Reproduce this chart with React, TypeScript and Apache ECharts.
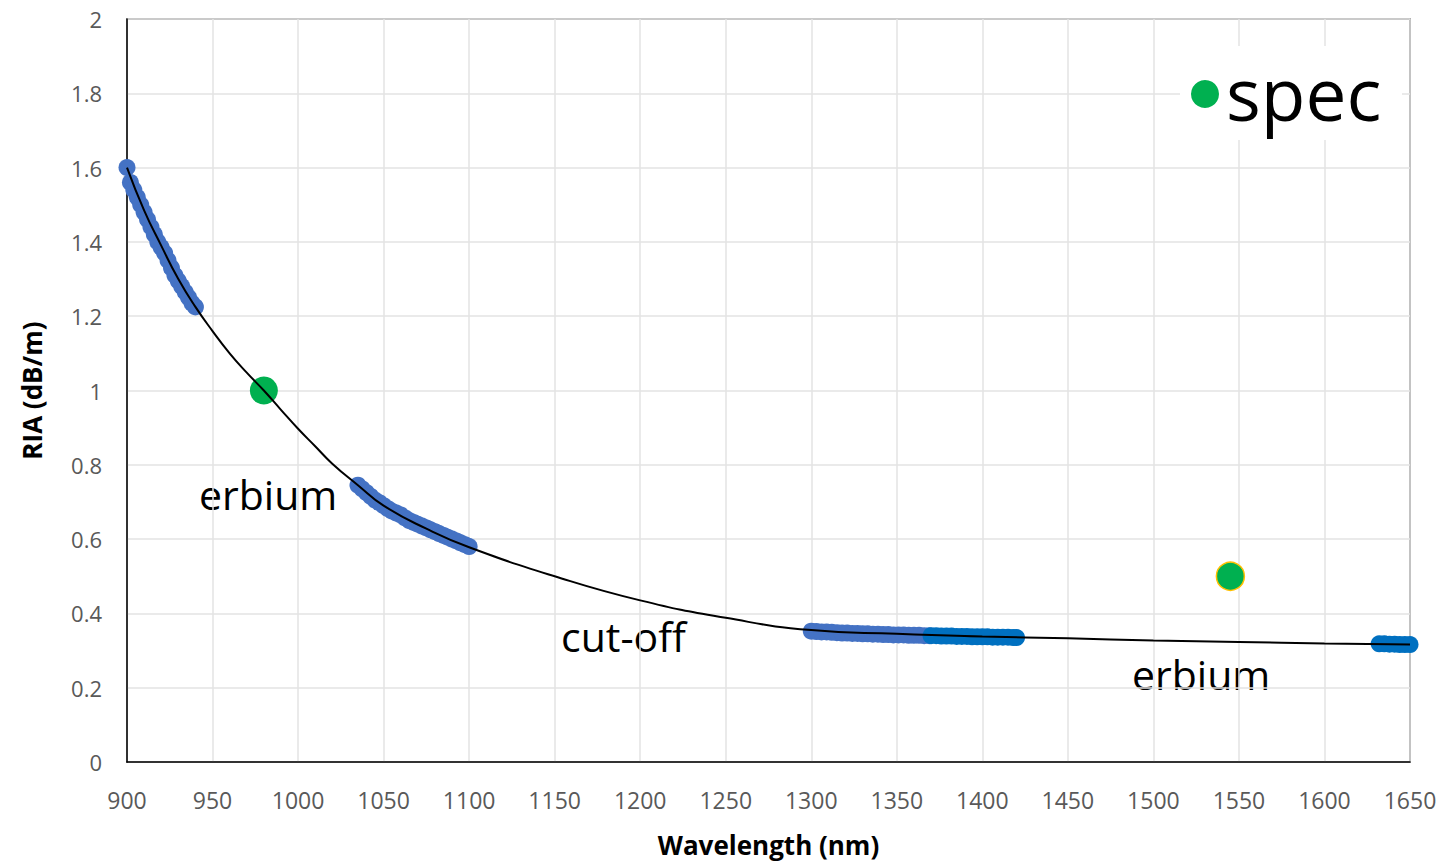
import React, { useEffect, useRef } from "react";
import * as echarts from "echarts";

// Measured RIA, lighter blue
const seg1X = [900, 902, 904, 906, 908, 910, 912, 914, 916, 918, 920, 922, 924, 926, 928, 930, 932, 934, 936, 938, 940];
const seg1Y = [1.6, 1.56, 1.54, 1.52, 1.5, 1.48, 1.46, 1.44, 1.42, 1.4, 1.385, 1.37, 1.35, 1.33, 1.31, 1.295, 1.28, 1.265, 1.25, 1.235, 1.225];
const seg2X = [1035, 1037.5, 1040, 1042.5, 1045, 1047.5, 1050, 1052.5, 1055, 1057.5, 1060, 1062.5, 1065, 1067.5, 1070, 1072.5, 1075, 1077.5, 1080, 1082.5, 1085, 1087.5, 1090, 1092.5, 1095, 1097.5, 1100];
const seg2Y = [0.745, 0.735, 0.725, 0.715, 0.705, 0.698, 0.69, 0.682, 0.675, 0.67, 0.665, 0.657, 0.65, 0.645, 0.64, 0.635, 0.63, 0.625, 0.62, 0.615, 0.61, 0.605, 0.6, 0.595, 0.59, 0.585, 0.58];
const seg3X = [1300, 1303, 1306, 1309, 1312, 1315, 1318, 1321, 1324, 1327, 1330, 1333, 1336, 1339, 1342, 1345, 1348, 1351, 1354, 1357, 1360, 1363, 1366, 1369];
const seg3Y = [0.352, 0.351, 0.35, 0.35, 0.349, 0.348, 0.347, 0.347, 0.346, 0.346, 0.345, 0.345, 0.344, 0.344, 0.343, 0.343, 0.342, 0.342, 0.342, 0.341, 0.341, 0.341, 0.34, 0.34];
// Measured RIA, darker blue
const seg4X = [1370, 1373, 1376, 1379, 1382, 1385, 1388, 1391, 1394, 1397, 1400, 1403, 1406, 1409, 1412, 1415, 1418, 1420];
const seg4Y = [0.34, 0.34, 0.339, 0.339, 0.339, 0.338, 0.338, 0.338, 0.337, 0.337, 0.337, 0.337, 0.336, 0.336, 0.336, 0.336, 0.335, 0.335];
const seg5X = [1632, 1635, 1638, 1641, 1644, 1647, 1650];
const seg5Y = [0.318, 0.318, 0.317, 0.317, 0.316, 0.316, 0.316];
// Fit curve
const fitX = [900, 910, 920, 930, 940, 950, 960, 970, 980, 990, 1000, 1010, 1020, 1035, 1050, 1075, 1100, 1150, 1200, 1250, 1300, 1350, 1400, 1450, 1500, 1550, 1600, 1650];
const fitY = [1.6, 1.485, 1.39, 1.3, 1.225, 1.16, 1.1, 1.048, 1.0, 0.948, 0.897, 0.85, 0.803, 0.745, 0.69, 0.628, 0.578, 0.5, 0.435, 0.388, 0.355, 0.345, 0.338, 0.333, 0.327, 0.323, 0.319, 0.316];
// Spec points
const specX = [980, 1545];
const specY = [1.0, 0.5];

const xTicks = [900, 950, 1000, 1050, 1100, 1150, 1200, 1250, 1300, 1350, 1400, 1450, 1500, 1550, 1600, 1650];

const zip = (xs: number[], ys: number[]) => xs.map((x, i) => [x, ys[i]]);

export default function App() {
  const ref = useRef<HTMLDivElement>(null);
  useEffect(() => {
    if (!ref.current) return;
    const chart = echarts.init(ref.current, undefined, { renderer: "svg" });
    const light = "#4472C4";
    const dark = "#0070C0";
    const green = "#00B050";
    const font = "'Open Sans', sans-serif";
    const marker = (c: string) => ({ color: c, opacity: 1 });
    chart.setOption({
      animation: false,
      backgroundColor: "#fff",
      grid: {
        left: 127, right: 32, top: 19, bottom: 102,
        outerBoundsMode: "none",
        show: true, borderColor: "#000", borderWidth: 1.2, backgroundColor: "transparent",
      },
      xAxis: {
        type: "value",
        min: xTicks[0],
        max: xTicks[xTicks.length - 1],
        interval: 50,
        name: "Wavelength (nm)",
        nameLocation: "middle",
        nameGap: 70,
        nameTextStyle: { fontFamily: font, fontWeight: "bold", fontSize: 26, color: "#000" },
        axisLine: { show: true, lineStyle: { color: "#000", width: 1.5 } },
        axisTick: { show: false },
        axisLabel: { fontFamily: font, fontSize: 23, color: "#595959", margin: 26, formatter: (v: number) => String(v) },
        splitLine: { show: true, lineStyle: { color: "#e3e3e3", width: 1.5 } },
      },
      yAxis: {
        type: "value",
        min: 0,
        max: 2,
        interval: 0.2,
        name: "RIA (dB/m)",
        nameLocation: "middle",
        nameGap: 82,
        nameTextStyle: { fontFamily: font, fontWeight: "bold", fontSize: 26, color: "#000" },
        axisLine: { show: true, lineStyle: { color: "#000", width: 1.5 } },
        axisTick: { show: false },
        axisLabel: { fontFamily: font, fontSize: 22, color: "#595959", margin: 25, formatter: (v: number) => String(Math.round(v * 10) / 10) },
        splitLine: { show: true, lineStyle: { color: "#e3e3e3", width: 1.5 } },
      },
      series: [
        { name: "m1", type: "scatter", data: zip(seg1X, seg1Y), symbolSize: 17, itemStyle: marker(light), z: 2 },
        { name: "m2", type: "scatter", data: zip(seg2X, seg2Y), symbolSize: 17, itemStyle: marker(light), z: 2 },
        { name: "m3", type: "scatter", data: zip(seg3X, seg3Y), symbolSize: 17, itemStyle: marker(light), z: 2 },
        { name: "m4", type: "scatter", data: zip(seg4X, seg4Y), symbolSize: 17, itemStyle: marker(dark), z: 2 },
        { name: "m5", type: "scatter", data: zip(seg5X, seg5Y), symbolSize: 17, itemStyle: marker(dark), z: 2 },
        {
          name: "spec",
          type: "scatter",
          data: specX.map((x, i) => ({
            value: [x, specY[i]],
            itemStyle: i === 1 ? { borderColor: "#FFC000", borderWidth: 1.5 } : { borderWidth: 0 },
          })),
          symbolSize: 28,
          itemStyle: marker(green),
          z: 3,
        },
        {
          name: "fit",
          type: "line",
          data: zip(fitX, fitY),
          smooth: 0.5,
          showSymbol: false,
          lineStyle: { color: "#000", width: 2 },
          z: 4,
        },
      ],
      graphic: [
        { type: "text", left: 199, top: 473, style: { text: "erbium", fontFamily: font, fontSize: 41, fill: "#000" } },
        { type: "text", left: 561, top: 615, style: { text: "cut-off", fontFamily: font, fontSize: 41, fill: "#000" } },
        { type: "text", left: 1132, top: 653, style: { text: "erbium", fontFamily: font, fontSize: 41, fill: "#000" } },
        { type: "rect", shape: { x: 1180, y: 46, width: 222, height: 94 }, style: { fill: "#fff" }, z: 10 },
        { type: "circle", shape: { cx: 1205, cy: 94, r: 14 }, style: { fill: green }, z: 11 },
        { type: "text", x: 1226, y: 92, style: { text: "spec", fontFamily: font, fontSize: 73, fill: "#000", verticalAlign: "middle", align: "left" }, z: 11 },
      ],
    });
    return () => chart.dispose();
  }, []);
  return <div ref={ref} style={{ position: "fixed", left: 0, top: 0, width: 1442, height: 864 }} />;
}
